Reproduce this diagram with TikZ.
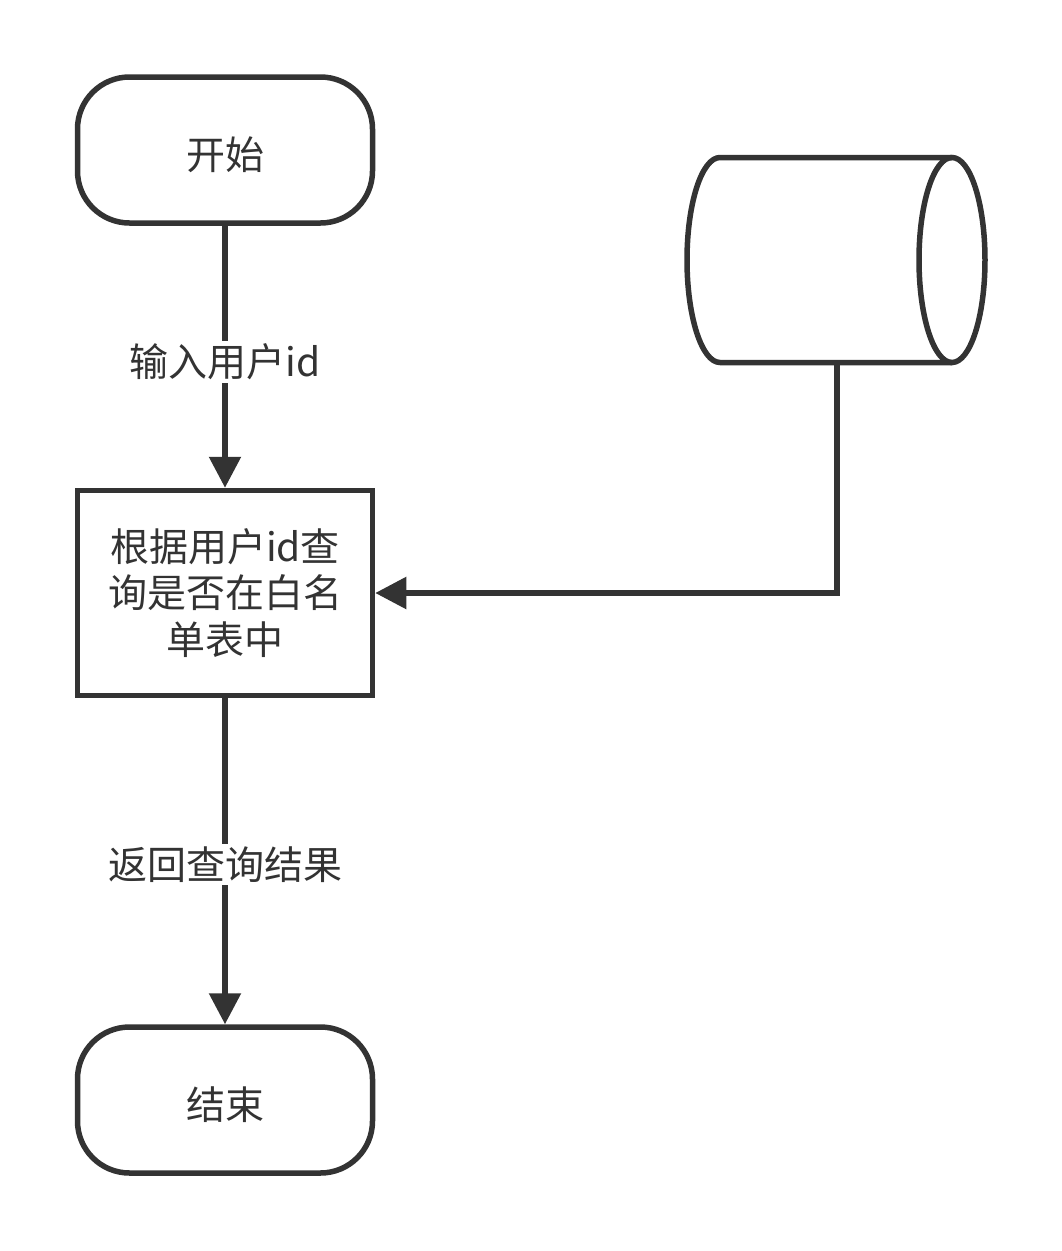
\documentclass[tikz,border=0pt]{standalone}
\usepackage{fontspec}
\setmainfont{Noto Sans CJK SC}
\usetikzlibrary{arrows.meta}
\definecolor{ink}{HTML}{333333}
\newcommand{\dn}[1]{\raisebox{-5pt}[\height][\depth]{#1}}
\begin{document}
\begin{tikzpicture}[x=1pt,y=-1pt,
  every node/.style={text=ink,font=\fontsize{39}{45}\selectfont},
  shp/.style={draw=ink,line width=5.5pt,inner sep=0pt},
  term/.style={shp,rounded corners=52pt,minimum width=295pt,minimum height=146pt},
  procbox/.style={shp,minimum width=295pt,minimum height=205pt},
  conn/.style={draw=ink,line width=5.5pt,-{Triangle[length=31pt,width=31pt]}},
  lab/.style={fill=white,inner sep=3pt}]
\useasboundingbox (0,0) rectangle (1062,1251);
\node[term] (start) at (225,150) {\dn{开始}};
\node[procbox] (check) at (225,593) {\dn{\begin{tabular}{@{}c@{}}根据用户id查\\询是否在白名\\单表中\end{tabular}}};
\node[term] (end) at (225,1100) {\dn{结束}};
% database cylinder
\draw[draw=ink,line width=5.5pt,line join=round] (952,157.5) -- (720,157.5)
  arc[start angle=90,end angle=270,x radius=33pt,y radius=102.5pt] -- (952,362.5);
\draw[draw=ink,line width=5.5pt] (952,260) ellipse [x radius=33pt,y radius=102.5pt];
\coordinate (db) at (837,362.5);
\draw[conn] (start) -- node[lab,pos=0.52] (l1) {输入用户id} (check);
\draw[conn] (db) |- (check.east);
\draw[conn] (check) -- node[lab,pos=0.51] (l2) {返回查询结果} (end);
\end{tikzpicture}
\end{document}
